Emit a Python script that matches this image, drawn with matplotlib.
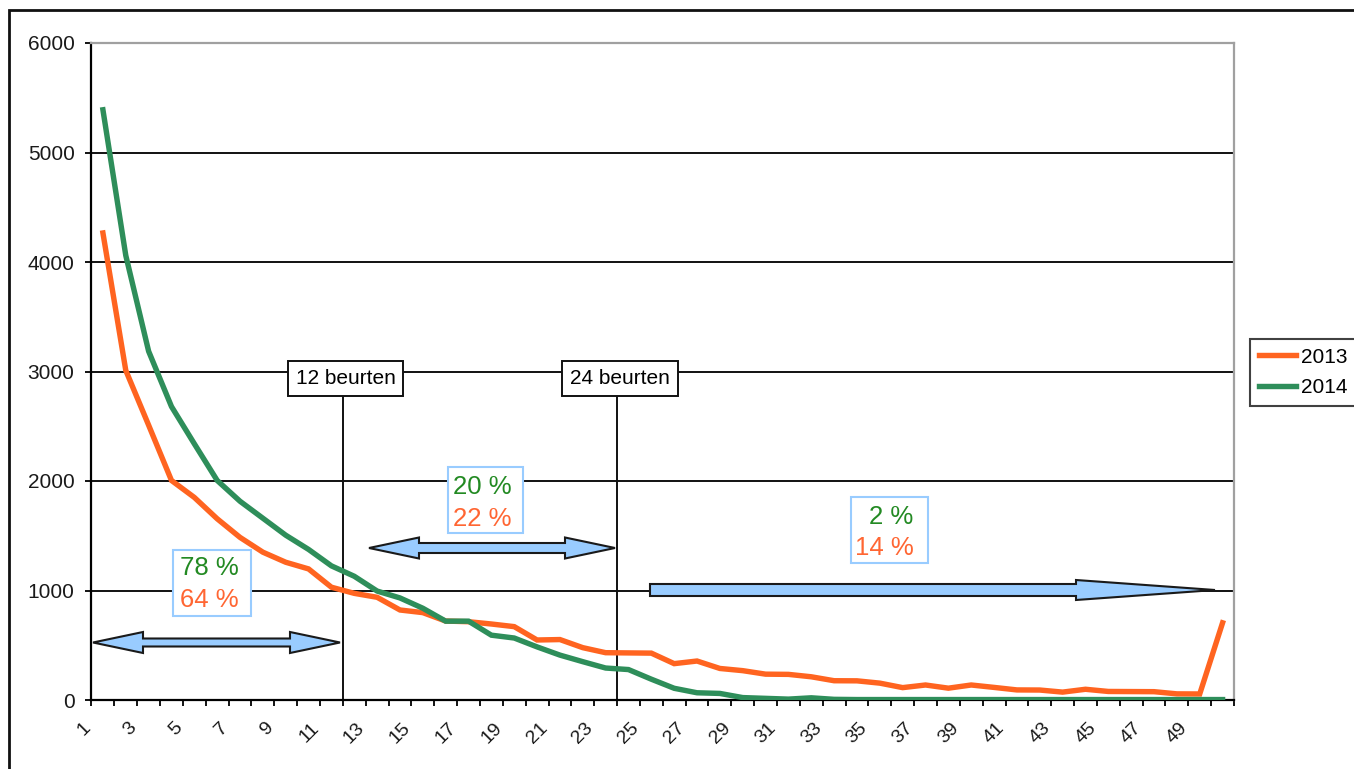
import matplotlib
matplotlib.use("Agg")
import matplotlib.pyplot as plt
from matplotlib.patches import Rectangle, Polygon
from matplotlib.transforms import ScaledTranslation

plt.rcParams['font.family'] = ['Liberation Sans', 'DejaVu Sans']

# ---- data ----
categories = list(range(1, 51))
tick_labels = [str(c) for c in categories if c % 2 == 1]
series_2013 = [4265, 3010, 2510, 2005, 1850, 1655, 1485, 1350, 1258, 1197,
               1030, 974, 938, 822, 798, 721, 715, 694, 670, 548,
               552, 478, 432, 430, 428, 332, 356, 288, 268, 236,
               234, 212, 176, 175, 154, 113, 137, 108, 137, 115,
               92, 91, 72, 98, 78, 77, 76, 56, 55, 705]
series_2014 = [5390, 4060, 3185, 2680, 2340, 2005, 1815, 1660, 1505, 1375,
               1225, 1130, 995, 932, 838, 720, 720, 592, 566, 485,
               410, 350, 292, 278, 190, 107, 66, 60, 22, 15,
               8, 20, 6, 4, 4, 4, 4, 4, 4, 4,
               4, 4, 4, 4, 4, 4, 4, 4, 4, 4]
y_ticks = [0, 1000, 2000, 3000, 4000, 5000, 6000]
markers_x = [11.5, 23.5]
marker_labels = ["12 beurten", "24 beurten"]

C13 = '#FF6420'
C14 = '#2E8E5A'
TXT_G = '#238A23'
TXT_O = '#FF6633'
LBLUE = '#99CCFF'

W, H = 1354, 769
fig = plt.figure(figsize=(W / 100, H / 100), dpi=100)
fig.patch.set_facecolor('white')

def fx(px):
    return px / W

def fy(py):
    return 1 - py / H

ax = fig.add_axes([fx(91.5), fy(700), fx(1234) - fx(91.5), fy(43) - fy(700)])
ax.set_xlim(0.5, 50.5)
ax.set_ylim(0, 6000)

# grid lines
for v in y_ticks[1:-1]:
    ax.axhline(v, color='#111111', lw=1.4, zorder=1)

l13, = ax.plot(categories, series_2013, color=C13, lw=3.9, label='2013', zorder=3,
               solid_joinstyle='miter')
l14, = ax.plot(categories, series_2014, color=C14, lw=3.9, label='2014', zorder=3,
               solid_joinstyle='miter')

# spines
for s in ['top', 'right']:
    ax.spines[s].set_color('#A0A0A0')
    ax.spines[s].set_linewidth(1.6)
for s in ['left', 'bottom']:
    ax.spines[s].set_color('black')
    ax.spines[s].set_linewidth(1.6)
    ax.spines[s].set_zorder(2.5)

ax.set_yticks(y_ticks)
ax.set_yticklabels([str(v) for v in y_ticks], fontsize=15, color='#1a1a1a')
ax.tick_params(axis='y', direction='out', length=4.2, width=1.3, pad=8)

odd = [c for c in categories if c % 2 == 1]
ax.set_xticks(odd)
ax.set_xticklabels(tick_labels, fontsize=14, rotation=45, ha='right', va='top',
                   color='#1a1a1a')
ax.set_xticks([c - 0.5 for c in categories] + [categories[-1] + 0.5], minor=True)
ax.tick_params(axis='x', which='major', length=0, pad=14)
ax.tick_params(axis='x', which='minor', direction='out', length=4, width=1.3)
off = ScaledTranslation(-9 / 100, 0, fig.dpi_scale_trans)
for lab in ax.get_xticklabels():
    lab.set_transform(lab.get_transform() + off)

# vertical marker lines with label boxes
for xm, lab in zip(markers_x, marker_labels):
    ax.plot([xm, xm], [0, 2900], color='#111111', lw=1.4, zorder=2)
    ax.text(xm + 0.12, 2936, lab, fontsize=15, ha='center', va='center', zorder=6,
            bbox=dict(boxstyle='square,pad=0.38', facecolor='white', edgecolor='#111111', lw=1.4))

# percentage boxes (data coords)
def pbox(x0, x1, y0, y1):
    ax.add_patch(Rectangle((x0, y0), x1 - x0, y1 - y0, facecolor='white',
                           edgecolor=LBLUE, lw=1.5, zorder=5))

pbox(4.065, 7.477, 767, 1370)
ax.text(4.37, 1142, "78 %", color=TXT_G, fontsize=18.5, ha='left', va='baseline', zorder=6)
ax.text(4.37, 849, "64 %", color=TXT_O, fontsize=18.5, ha='left', va='baseline', zorder=6)

pbox(16.095, 19.375, 1525, 2128)
ax.text(16.3, 1881, "20 %", color=TXT_G, fontsize=18.5, ha='left', va='baseline', zorder=6)
ax.text(16.3, 1589, "22 %", color=TXT_O, fontsize=18.5, ha='left', va='baseline', zorder=6)

pbox(33.72, 37.09, 1251, 1854)
ax.text(36.48, 1607, "2 %", color=TXT_G, fontsize=18.5, ha='right', va='baseline', zorder=6)
ax.text(36.48, 1324, "14 %", color=TXT_O, fontsize=18.5, ha='right', va='baseline', zorder=6)

# arrows in figure pixel space
def to_fig(pts):
    return [(fx(x), fy(y)) for x, y in pts]

def double_arrow(xl, xr, y, hl, hhw, shw):
    pts = [(xl, y), (xl + hl, y - hhw), (xl + hl, y - shw), (xr - hl, y - shw),
           (xr - hl, y - hhw), (xr, y), (xr - hl, y + hhw), (xr - hl, y + shw),
           (xl + hl, y + shw), (xl + hl, y + hhw)]
    fig.patches.append(Polygon(to_fig(pts), closed=True, facecolor=LBLUE,
                               edgecolor='#1a1a1a', lw=1.5, transform=fig.transFigure,
                               zorder=5))

def single_arrow(xs, xb, xt, y, hhw, shw):
    pts = [(xs, y - shw), (xb, y - shw), (xb, y - hhw), (xt, y), (xb, y + hhw),
           (xb, y + shw), (xs, y + shw)]
    fig.patches.append(Polygon(to_fig(pts), closed=True, facecolor=LBLUE,
                               edgecolor='#1a1a1a', lw=1.5, transform=fig.transFigure,
                               zorder=5))

double_arrow(93, 340, 642.5, 50, 10.5, 4)
double_arrow(369, 615, 548, 50, 10.5, 5)
single_arrow(650, 1076, 1215, 590, 10, 6)

# legend
leg = ax.legend(handles=[l13, l14], loc='upper left',
                bbox_to_anchor=(fx(1250), fy(339)), bbox_transform=fig.transFigure,
                borderaxespad=0, fontsize=15, handlelength=1.8, handletextpad=0.25,
                borderpad=0.42, labelspacing=0.55, frameon=True, fancybox=False)
leg.get_frame().set_edgecolor('#111111')
leg.get_frame().set_linewidth(1.5)

# outer frame (partially cropped like the reference)
fig.patches.append(Rectangle((fx(9), -0.2), 1.5, fy(10) + 0.2, fill=False,
                             edgecolor='#111111', lw=2, transform=fig.transFigure))

fig.savefig('out.png', dpi=100, facecolor='white')
